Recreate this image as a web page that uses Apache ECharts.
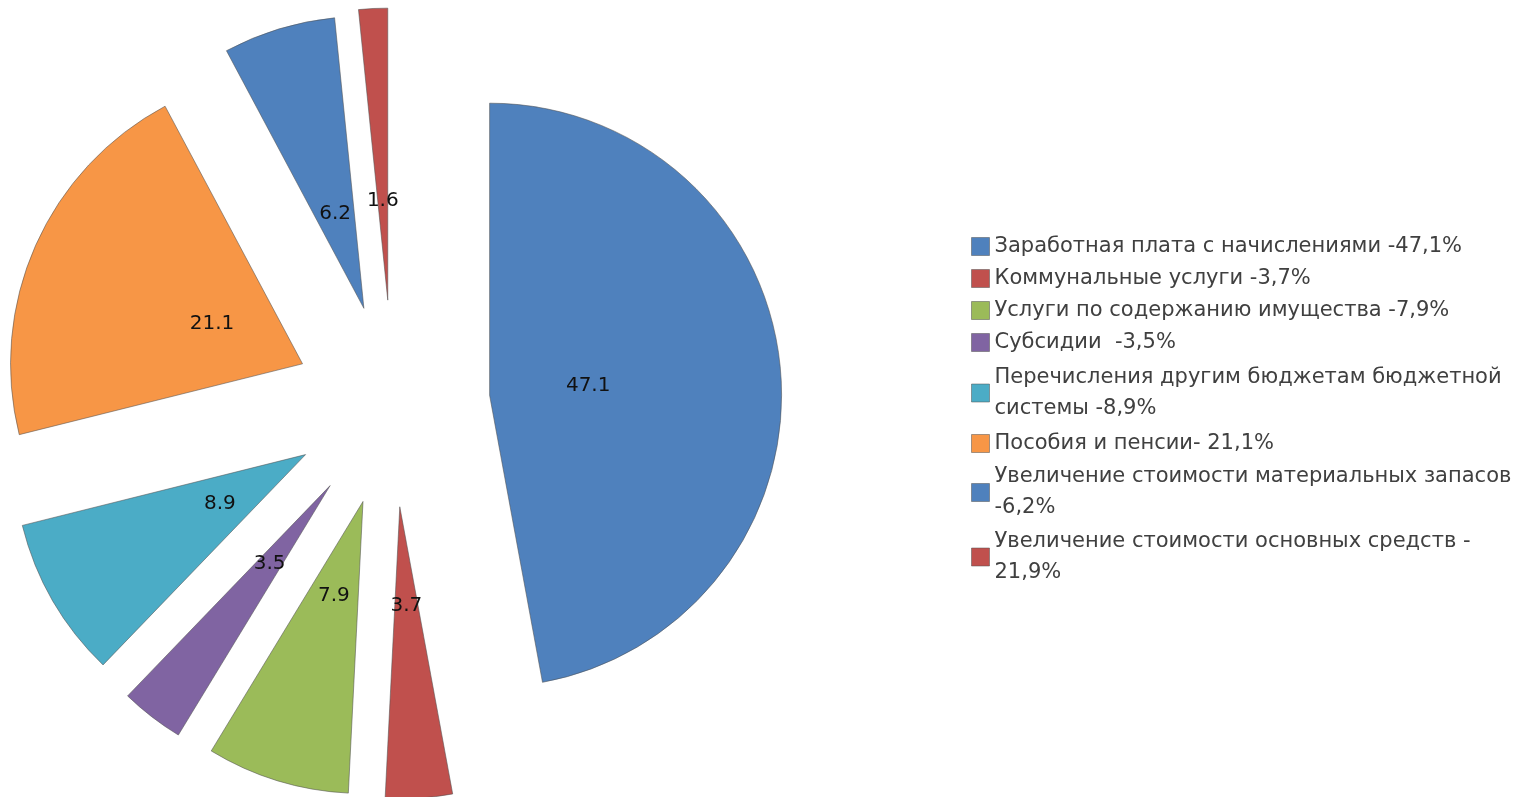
<!DOCTYPE html>
<html>
<head>
<meta charset="utf-8">
<script src="https://cdn.jsdelivr.net/npm/echarts@6/dist/echarts.min.js"></script>
<style>
html,body{margin:0;padding:0;background:#fff;}
#chart{width:1523px;height:797px;}
</style>
</head>
<body>
<div id="chart"></div>
<script>
// ---- data ----
const categories = [
  'Заработная плата с начислениями -47,1%',
  'Коммунальные услуги -3,7%',
  'Услуги по содержанию имущества -7,9%',
  'Субсидии  -3,5%',
  'Перечисления другим бюджетам бюджетной\nсистемы -8,9%',
  'Пособия и пенсии- 21,1%',
  'Увеличение стоимости материальных запасов\n-6,2%',
  'Увеличение стоимости основных средств -\n21,9%'
];
const values = [47.1, 3.7, 7.9, 3.5, 8.9, 21.1, 6.2, 1.6];

// ---- styles ----
const colors = ['#4F81BD', '#C0504D', '#9BBB59', '#8064A2', '#4BACC6', '#F79646', '#4F81BD', '#C0504D'];
const explode = [97, 103, 102, 103, 101, 99, 100, 104];
const legendTopPad = [0, 0, 0, 0, 6, 0, 3, 0];
const pieCenter = [393, 404];
const pieRadius = 292;
const labelRadius = 192;

const series = [];
values.forEach(function (v, k) {
  const sliceData = values.map(function (val, i) {
    return {
      name: categories[i],
      value: val,
      selected: i === k,
      itemStyle: i === k
        ? { color: colors[i], borderColor: 'rgba(80,80,80,0.55)', borderWidth: 1 }
        : { color: 'rgba(0,0,0,0)', borderWidth: 0 }
    };
  });
  series.push({
    type: 'pie',
    silent: true,
    center: pieCenter,
    radius: [0, pieRadius],
    startAngle: 90,
    clockwise: true,
    selectedMode: 'multiple',
    selectedOffset: explode[k],
    avoidLabelOverlap: false,
    label: { show: false },
    labelLine: { show: false },
    emphasis: { disabled: true },
    data: sliceData
  });
  const labelData = values.map(function (val, i) {
    return {
      name: categories[i],
      value: val,
      selected: i === k,
      itemStyle: { color: 'rgba(0,0,0,0)', borderWidth: 0 },
      label: { show: i === k }
    };
  });
  series.push({
    type: 'pie',
    silent: true,
    z: 5,
    center: pieCenter,
    radius: [0, labelRadius],
    startAngle: 90,
    clockwise: true,
    selectedMode: 'multiple',
    selectedOffset: explode[k],
    avoidLabelOverlap: false,
    labelLayout: { hideOverlap: false, moveOverlap: null },
    label: {
      position: 'inside',
      formatter: '{c}',
      color: '#111',
      fontFamily: 'DejaVu Sans',
      fontSize: 20
    },
    labelLine: { show: false },
    emphasis: { disabled: true },
    data: labelData
  });
});

const chart = echarts.init(document.getElementById('chart'));
chart.setOption({
  animation: false,
  backgroundColor: '#fff',
  legend: {
    orient: 'vertical',
    left: 966,
    top: 226,
    padding: 5,
    icon: 'rect',
    itemWidth: 18,
    itemHeight: 18,
    itemGap: 1,
    selectedMode: false,
    textStyle: {
      color: '#404040',
      fontFamily: 'DejaVu Sans',
      fontSize: 21,
      lineHeight: 31
    },
    data: categories.map(function (c, i) {
      return {
        name: c,
        itemStyle: { color: colors[i], borderColor: 'rgba(80,80,80,0.5)', borderWidth: 1 },
        textStyle: { padding: [legendTopPad[i], 0, 0, 0] }
      };
    })
  },
  series: series
});
</script>
</body>
</html>
